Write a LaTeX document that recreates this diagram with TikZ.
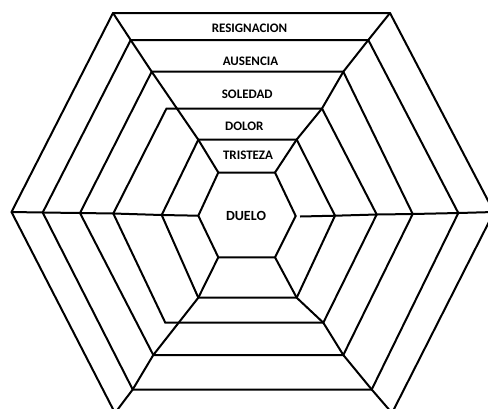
\documentclass[tikz,border=0pt]{standalone}
\usepackage{fontspec}
\setmainfont{Carlito}
\usepackage{tikz}

\begin{document}
\begin{tikzpicture}[x=0.75pt,y=-0.75pt,
	web/.style={line width=1.5pt},
	stage/.style={font=\bfseries\fontsize{9.75}{11}\selectfont,inner sep=0pt}]
	
	% page frame (outer ring runs off the page)
	\useasboundingbox (0,0) rectangle (488,408);
	\clip (0,0) rectangle (488,408);
	
	% --- rings, outer to inner ---
	\draw[web] (113,13) coordinate (res1) -- (390,13) coordinate (res2)
	-- (494,212) coordinate (res3) -- (392,413) coordinate (res4)
	-- (115,413) coordinate (res5) -- (11.5,212) coordinate (res6) -- cycle;
	\draw[web] (130.7,40) coordinate (aus1) -- (368.3,40) coordinate (aus2)
	-- (458.3,213) coordinate (aus3) -- (371.7,389.5) coordinate (aus4)
	-- (132.7,389.5) coordinate (aus5) -- (42.7,212.5) coordinate (aus6) -- cycle;
	\draw[web] (151.7,71.7) coordinate (sol1) -- (343.3,71.7) coordinate (sol2)
	-- (412.7,214) coordinate (sol3) -- (343.3,355) coordinate (sol4)
	-- (153.3,355) coordinate (sol5) -- (80,213) coordinate (sol6) -- cycle;
	\draw[web] (166.5,108.5) coordinate (dol1) -- (322,108.5) coordinate (dol2)
	-- (376.7,214.5) coordinate (dol3) -- (323.3,322.7) coordinate (dol4)
	-- (165.3,322.7) coordinate (dol5) -- (113.3,213.5) coordinate (dol6) -- cycle;
	\draw[web] (198.3,139.7) coordinate (tri1) -- (296.7,139.5) coordinate (tri2)
	-- (335,215.7) coordinate (tri3) -- (296.7,297.7) coordinate (tri4)
	-- (198.3,297.7) coordinate (tri5) -- (161.7,215) coordinate (tri6) -- cycle;
	\draw[web] (218.3,172.5) coordinate (due1) -- (275,172.5) coordinate (due2)
	-- (295.7,216) coordinate (due3) -- (275,257.3) coordinate (due4)
	-- (218.3,257.3) coordinate (due5) -- (198.3,215.7) coordinate (due6) -- cycle;
	
	% --- spokes ---
	\coordinate (gap) at (300,216.5);
	\draw[web] (res1) -- (aus1) -- (sol1) -- (tri1) -- (due1);
	\draw[web] (res2) -- (aus2) -- (sol2) -- (dol2) -- (tri2) -- (due2);
	\draw[web] (res3) -- (aus3) -- (sol3) -- (dol3) -- (tri3) -- (gap);
	\draw[web] (res4) -- (aus4) -- (sol4) -- (dol4) -- (tri4) -- (due4);
	\draw[web] (res5) -- (aus5) -- (sol5) -- (tri5) -- (due5);
	\draw[web] (res6) -- (aus6) -- (sol6) -- (dol6) -- (tri6) -- (due6);
	
	% --- labels ---
	\node[stage] (resig) at (249.5,28.3) {RESIGNACION};
	\node[stage] (ausen) at (250.5,61) {AUSENCIA};
	\node[stage] (soled) at (247.2,94.3) {SOLEDAD};
	\node[stage] (dolor) at (244.3,126) {DOLOR};
	\node[stage] (trist) at (248,155.7) {TRISTEZA};
	\node[stage,font=\bfseries\fontsize{10.5}{12}\selectfont] (duelo) at (246,215.7) {DUELO};
	
\end{tikzpicture}
\end{document}
